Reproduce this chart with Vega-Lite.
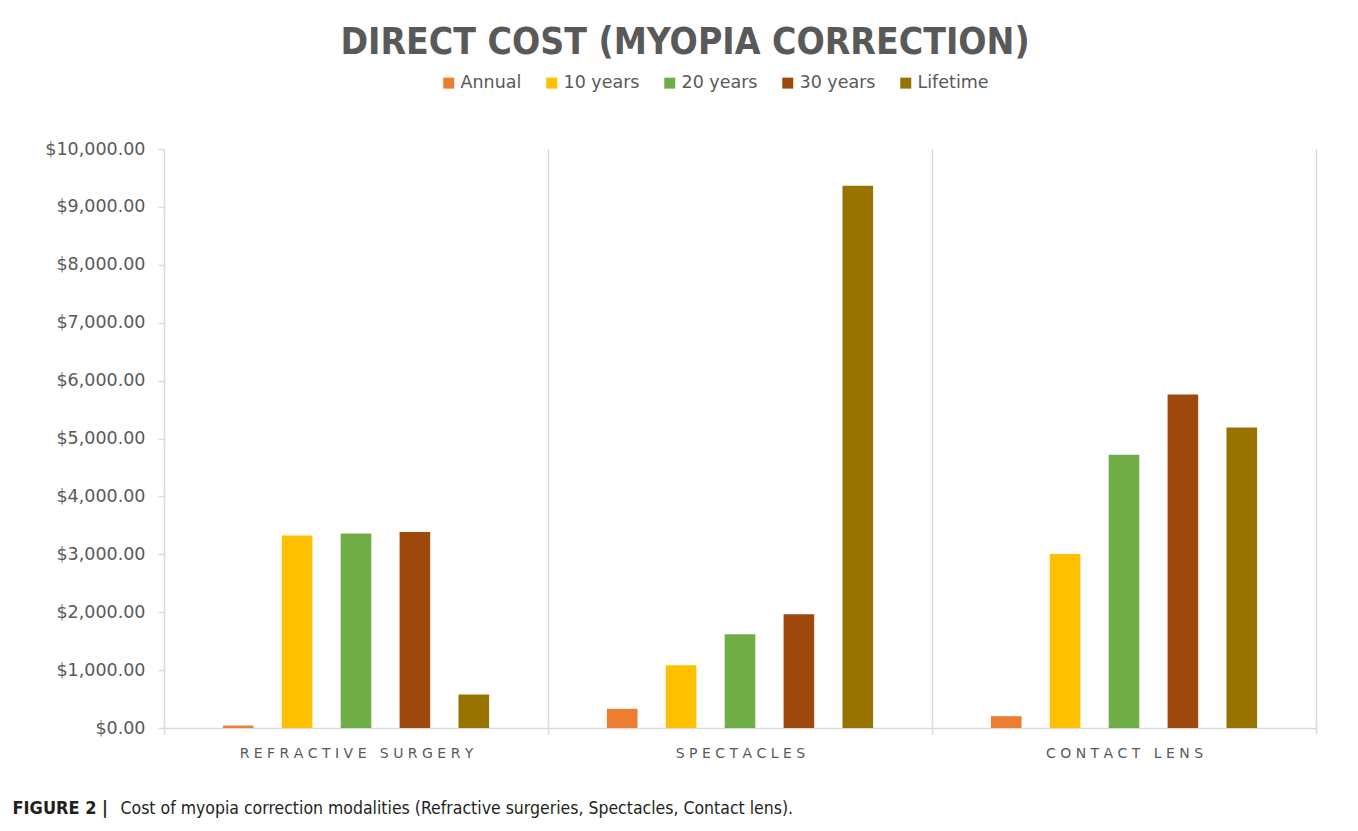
{
  "$schema": "https://vega.github.io/schema/vega-lite/v6.json",
  "width": 1152,
  "height": 579,
  "autosize": {"type": "none"},
  "padding": {"left": 164, "top": 149, "right": 42, "bottom": 103},
  "background": "white",
  "title": {
    "text": "DIRECT COST (MYOPIA CORRECTION)",
    "anchor": "middle",
    "dx": -55,
    "offset": -17,
    "baseline": "alphabetic",
    "font": "DejaVu Sans Condensed",
    "fontSize": 37,
    "fontWeight": "bold",
    "color": "#595959"
  },
  "data": {
    "values": [
      {"modality": "Refractive Surgery", "period": "Annual", "cost": 42},
      {"modality": "Refractive Surgery", "period": "10 years", "cost": 3324},
      {"modality": "Refractive Surgery", "period": "20 years", "cost": 3359},
      {"modality": "Refractive Surgery", "period": "30 years", "cost": 3387},
      {"modality": "Refractive Surgery", "period": "Lifetime", "cost": 577},
      {"modality": "Spectacles", "period": "Annual", "cost": 331},
      {"modality": "Spectacles", "period": "10 years", "cost": 1085},
      {"modality": "Spectacles", "period": "20 years", "cost": 1620},
      {"modality": "Spectacles", "period": "30 years", "cost": 1965},
      {"modality": "Spectacles", "period": "Lifetime", "cost": 9366},
      {"modality": "Contact Lens", "period": "Annual", "cost": 204},
      {"modality": "Contact Lens", "period": "10 years", "cost": 3007},
      {"modality": "Contact Lens", "period": "20 years", "cost": 4718},
      {"modality": "Contact Lens", "period": "30 years", "cost": 5761},
      {"modality": "Contact Lens", "period": "Lifetime", "cost": 5190}
    ]
  },
  "mark": {"type": "bar"},
  "encoding": {
    "x": {
      "field": "modality",
      "type": "nominal",
      "sort": ["Refractive Surgery", "Spectacles", "Contact Lens"],
      "scale": {"paddingInner": 0, "paddingOuter": 0},
      "axis": {
        "title": "Cost of myopia correction modalities (Refractive surgeries, Spectacles, Contact lens).",
        "titleAnchor": "start",
        "titleAlign": "left",
        "titleBaseline": "middle",
        "titleX": -44,
        "titleY": 80,
        "titleFont": "Liberation Sans Narrow, DejaVu Sans Condensed, sans-serif",
        "titleFontSize": 17.5,
        "titleFontWeight": "normal",
        "titleColor": "#231f20",
        "labelAngle": 0,
        "labelExpr": "join(split(upper(datum.label), ''), '\u00a0')",
        "labelLimit": 0,
        "labelFont": "DejaVu Sans",
        "labelFontSize": 14,
        "labelColor": "#595959",
        "labelPadding": 12,
        "tickBand": "extent",
        "grid": true,
        "gridColor": "#d9d9d9",
        "gridWidth": 1.5,
        "ticks": true,
        "tickSize": 6,
        "tickColor": "#d9d9d9",
        "tickWidth": 1.5,
        "domainColor": "#d9d9d9",
        "domainWidth": 1.5
      }
    },
    "xOffset": {
      "field": "period",
      "type": "nominal",
      "sort": ["Annual", "10 years", "20 years", "30 years", "Lifetime"],
      "scale": {"paddingInner": 0.48, "paddingOuter": 1.17}
    },
    "y": {
      "field": "cost",
      "type": "quantitative",
      "scale": {"domain": [0, 10000], "nice": false},
      "axis": {
        "title": "FIGURE 2 |",
        "titleAngle": 0,
        "titleX": -152,
        "titleY": 659,
        "titleAlign": "left",
        "titleBaseline": "middle",
        "titleFont": "Liberation Sans Narrow, DejaVu Sans Condensed, sans-serif",
        "titleFontSize": 18,
        "titleFontWeight": "bold",
        "titleColor": "#231f20",
        "values": [0, 1000, 2000, 3000, 4000, 5000, 6000, 7000, 8000, 9000, 10000],
        "format": "$,.2f",
        "labelFont": "DejaVu Sans",
        "labelFontSize": 17.5,
        "labelColor": "#595959",
        "labelPadding": 13,
        "grid": false,
        "domain": false,
        "ticks": true,
        "tickSize": 6,
        "tickColor": "#d9d9d9",
        "tickWidth": 1.5
      }
    },
    "color": {
      "field": "period",
      "type": "nominal",
      "sort": ["Annual", "10 years", "20 years", "30 years", "Lifetime"],
      "scale": {
        "domain": ["Annual", "10 years", "20 years", "30 years", "Lifetime"],
        "range": ["#ED7D31", "#FFC000", "#70AD47", "#9E480E", "#997300"]
      },
      "legend": {
        "title": null,
        "orient": "none",
        "direction": "horizontal",
        "legendX": 276,
        "legendY": -75,
        "symbolType": "square",
        "symbolSize": 121,
        "symbolStrokeWidth": 0,
        "labelFont": "DejaVu Sans",
        "labelFontSize": 17.5,
        "labelColor": "#595959",
        "labelOffset": 3,
        "columnPadding": 21
      }
    }
  },
  "config": {
    "view": {"stroke": null}
  }
}
